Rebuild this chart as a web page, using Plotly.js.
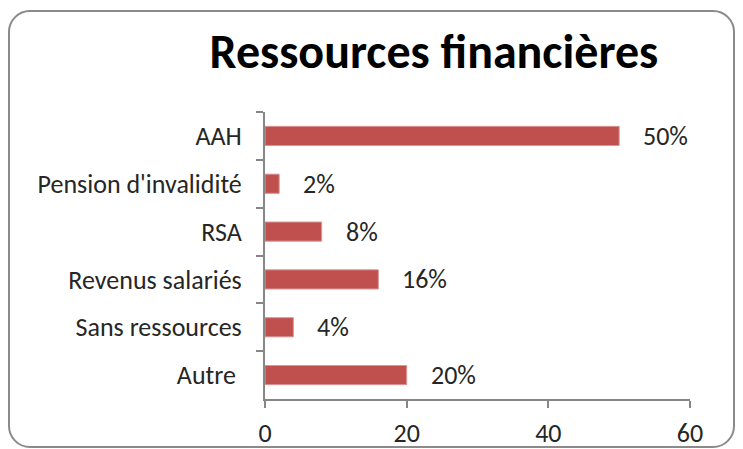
<!DOCTYPE html>
<html>
<head>
<meta charset="utf-8">
<script src="https://cdn.plot.ly/plotly-3.0.1.min.js"></script>
<style>
  html, body { margin: 0; padding: 0; background: #ffffff; overflow: hidden; }
  #wrap { position: relative; width: 743px; height: 449px; }
  #chart { position: absolute; left: 0; top: 0; width: 743px; height: 449px; }
  #frame { position: absolute; left: 8px; top: 10px; width: 723px; height: 434px;
           border: 2px solid #8a8a8a; border-radius: 22px; pointer-events: none; }
</style>
</head>
<body>
<div id="wrap">
  <div id="chart"></div>
  <div id="frame"></div>
</div>
<script>
const categories = ['AAH', "Pension d'invalidité", 'RSA', 'Revenus salariés', 'Sans ressources', 'Autre\u00a0'];
const values = [50, 2, 8, 16, 4, 20];
const valueLabels = ['50%', '2%', '8%', '16%', '4%', '20%'];
const xTicks = [0, 20, 40, 60];

const FONT = 'Carlito, "Liberation Sans Narrow", "Open Sans", sans-serif';
const TXT = '#262626';

const trace = {
  type: 'bar',
  orientation: 'h',
  y: categories,
  x: values,
  marker: { color: '#C0504D', line: { color: '#D99594', width: 1 } },
  hoverinfo: 'none'
};

const annotations = values.map((v, i) => ({
  x: v, y: categories[i], xref: 'x', yref: 'y',
  text: valueLabels[i], showarrow: false,
  xanchor: 'left', yanchor: 'middle', xshift: 22,
  font: { family: FONT, size: 26, color: TXT }
}));

const layout = {
  width: 743, height: 449,
  margin: { l: 265, r: 53, t: 112, b: 50, pad: 0 },
  paper_bgcolor: '#ffffff', plot_bgcolor: '#ffffff',
  showlegend: false,
  bargap: 0.6,
  title: {
    text: '<b>Ressources financières</b>',
    x: 0.584, xanchor: 'center', xref: 'container',
    y: 0.885, yanchor: 'middle', yref: 'container',
    font: { family: FONT, size: 48, color: '#000000' }
  },
  xaxis: {
    range: [0, 60], tickvals: xTicks, ticktext: xTicks.map(String),
    showgrid: false, zeroline: false,
    showline: true, linecolor: '#868686', linewidth: 2,
    ticks: 'outside', ticklen: 7, tickwidth: 2, tickcolor: '#868686',
    tickfont: { family: FONT, size: 26, color: TXT },
    ticklabelstandoff: 3
  },
  yaxis: {
    type: 'category', categoryorder: 'array', categoryarray: categories,
    autorange: 'reversed',
    showgrid: false, zeroline: false,
    showline: true, linecolor: '#868686', linewidth: 2,
    ticks: 'outside', ticklen: 7, tickwidth: 2, tickcolor: '#868686',
    tickson: 'boundaries',
    tickfont: { family: FONT, size: 26, color: TXT },
    ticklabelstandoff: 16
  },
  annotations: annotations
};

Plotly.newPlot('chart', [trace], layout, { staticPlot: true, displayModeBar: false });
</script>
</body>
</html>
